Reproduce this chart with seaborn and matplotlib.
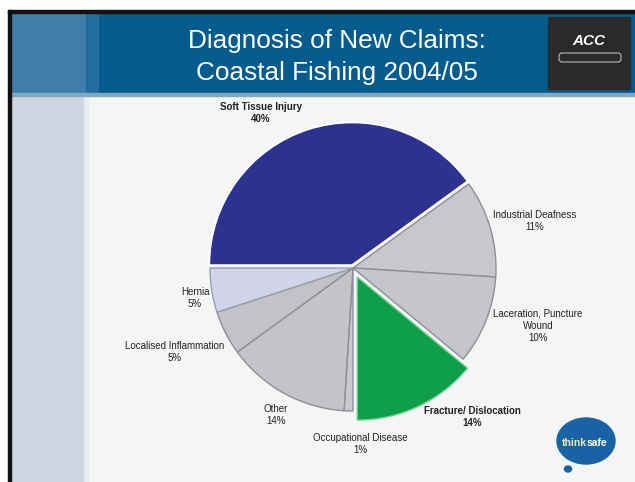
import matplotlib
matplotlib.use("Agg")
import matplotlib.pyplot as plt
import seaborn as sns
from matplotlib.patches import Rectangle, FancyBboxPatch, Ellipse

sns.set_theme(style="white")
plt.rcParams['font.family'] = ['Liberation Sans', 'DejaVu Sans']

# ---- data ----
categories = ["Soft Tissue Injury", "Industrial Deafness", "Laceration, Puncture\nWound",
              "Fracture/ Dislocation", "Occupational Disease", "Other",
              "Localised Inflammation", "Hernia"]
shares = [40, 11, 10, 14, 1, 14, 5, 5]
bold_labels = ["Soft Tissue Injury", "Fracture/ Dislocation"]
title_lines = ["Diagnosis of New Claims:", "Coastal Fishing 2004/05"]

# ---- styles ----
colors = ["#2d3190", "#c7c8cd", "#c5c6cb", "#0f9f4b", "#c8c9cd", "#c3c4c9", "#c2c3c8", "#d2d5ea"]
edges = ["#1f2370", "#8d8f97", "#8d8f97", "#6fcf8f", "#8d8f97", "#8d8f97", "#8d8f97", "#9a9db0"]
explode = [0.02, 0, 0, 0.07, 0, 0, 0, 0]
label_pos = [(261, 113), (535, 221), (538, 326), (472, 417), (360, 444), (276, 415), (175, 352), (195, 298)]

W, H = 635, 482
fig = plt.figure(figsize=(W / 100, H / 100), dpi=100)
fig.patch.set_facecolor("#f4f5f5")

bg = fig.add_axes([0, 0, 1, 1])
bg.set_xlim(0, W)
bg.set_ylim(H, 0)
bg.axis("off")
# white top and left margin, black frame
bg.add_patch(Rectangle((0, 0), W, 12, color="white", zorder=0))
bg.add_patch(Rectangle((0, 0), 8, H, color="white", zorder=0))
bg.add_patch(Rectangle((8, 10), 3, H, color="#111111", zorder=3))
bg.add_patch(Rectangle((8, 10), W, 3, color="#111111", zorder=3))
# left strip
bg.add_patch(Rectangle((11, 95), 73, H, color="#cbd6e1", zorder=1))
bg.add_patch(Rectangle((84, 95), 4, H, color="#e6edf2", zorder=1))
# header
bg.add_patch(Rectangle((11, 13), W, 82, color="#045c8e", zorder=1))
bg.add_patch(Rectangle((11, 13), 75, 82, color="#3f7ea8", zorder=1))
bg.add_patch(Rectangle((86, 13), 12, 82, color="#236d9c", zorder=1))
bg.add_patch(Rectangle((11, 93), W, 3, color="#7fa8c4", zorder=2))
for i, line in enumerate(title_lines):
    bg.text(337, 41 + i * 32, line, color="white", fontsize=18.8, ha="center", va="center", zorder=4)
# ACC logo
bg.add_patch(Rectangle((548, 17), 82, 72, color="#2a2a2a", zorder=2))
bg.text(589, 41, "ACC", color="white", fontsize=11, fontweight="bold", style="italic",
        ha="center", va="center", zorder=4)
bg.add_patch(FancyBboxPatch((560, 54), 60, 7, boxstyle="round,pad=1,rounding_size=3",
                            fc="#2a2a2a", ec="#bbbbbb", lw=0.8, zorder=3))
# thinksafe logo
bg.add_patch(Ellipse((586, 441), 58, 46, color="#1a62a6", zorder=2))
bg.add_patch(Ellipse((568, 469), 7, 6, color="#1a62a6", zorder=2))
bg.text(587, 443, "think", color="#f1e7b0", fontsize=7.5, fontweight="bold",
        ha="right", va="center", zorder=4)
bg.text(587, 443, "safe", color="white", fontsize=7.5, fontweight="bold",
        ha="left", va="center", zorder=4)

# pie
R = 143
cx, cy = 353, 268
span = R * 2.5
ax = fig.add_axes([(cx - span / 2) / W, (H - cy - span / 2) / H, span / W, span / H])
wedges, _ = ax.pie(shares, colors=colors, explode=explode, startangle=180, counterclock=False,
                   radius=1, wedgeprops=dict(linewidth=1.0))
for w, ec in zip(wedges, edges):
    w.set_edgecolor(ec)
wedges[0].set_edgecolor("white")
wedges[0].set_linewidth(1.5)
ax.set_xlim(-1.25, 1.25)
ax.set_ylim(-1.25, 1.25)
ax.set_aspect("equal")
ax.axis("off")

for cat, val, (x, y) in zip(categories, shares, label_pos):
    bold = cat in bold_labels
    bg.text(x, y, f"{cat}\n{val}%", fontsize=7.0, ha="center", va="center",
            fontweight="bold" if bold else "normal", color="#222222", linespacing=1.3, zorder=5)

fig.savefig("out.png", dpi=100, facecolor=fig.get_facecolor())
